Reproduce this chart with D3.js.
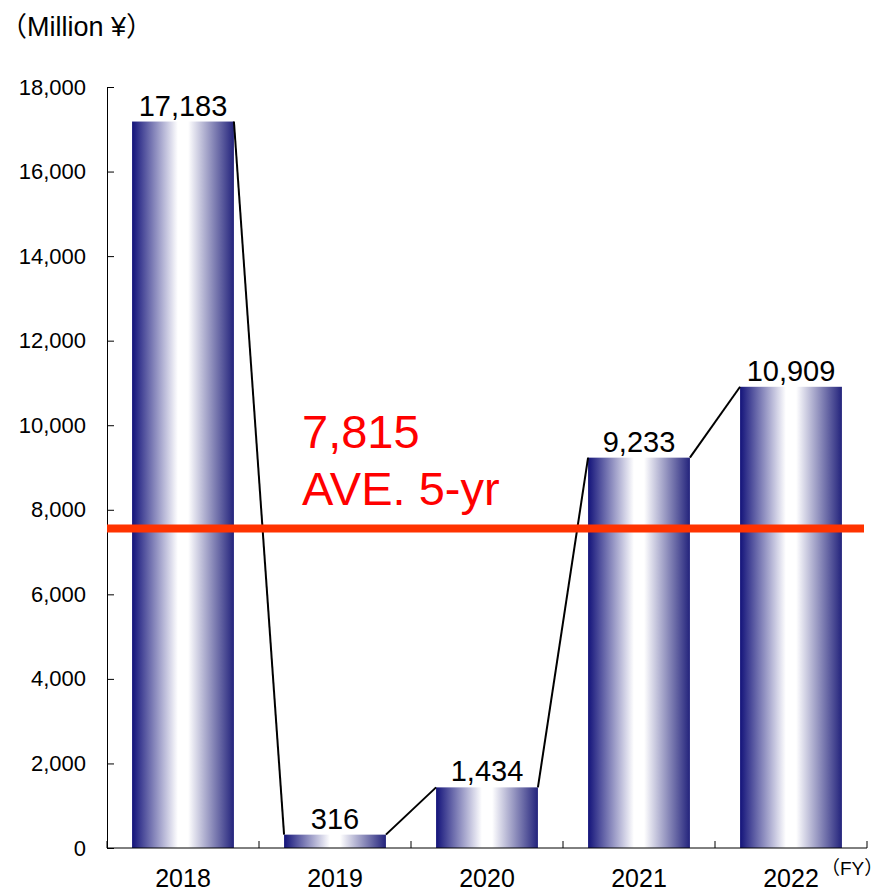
<!DOCTYPE html>
<html>
<head>
<meta charset="utf-8">
<script src="https://cdn.jsdelivr.net/npm/d3@7"></script>
<style>
  body { margin: 0; background: #fff; }
  text { font-family: "Liberation Sans", Arial, sans-serif; }
  .cjk { font-family: "Noto Sans CJK JP", sans-serif; }
</style>
</head>
<body>
<div id="chart"></div>
<script>
// data
var years = ["2018", "2019", "2020", "2021", "2022"];
var values = [17183, 316, 1434, 9233, 10909];
var yTicks = [0, 2000, 4000, 6000, 8000, 10000, 12000, 14000, 16000, 18000];
var aveLabel = "7,815";
var aveText = "AVE. 5-yr";
var aveLineValue = 7560; // where the line sits in the picture

function draw_chart() {
	var w = 884, h = 891;
	var mLeft = 107, mRight = 867, mTop = 87, mBottom = 848;

	var svg = d3.select("#chart").append("svg")
		.attr("width", w)
		.attr("height", h);

	var x = d3.scaleBand()
		.domain(years)
		.range([mLeft, mRight])
		.paddingInner(0.33)
		.paddingOuter(0.165);

	var y = d3.scaleLinear()
		.domain([0, 18000])
		.range([mBottom, mTop]);

	// gradient for the bars
	var grad = svg.append("defs").append("linearGradient")
		.attr("id", "barGrad")
		.attr("x1", "0%").attr("y1", "0%")
		.attr("x2", "100%").attr("y2", "0%");
	grad.append("stop").attr("offset", "0%").attr("stop-color", "#13137a");
	grad.append("stop").attr("offset", "45%").attr("stop-color", "#ffffff");
	grad.append("stop").attr("offset", "55%").attr("stop-color", "#ffffff");
	grad.append("stop").attr("offset", "100%").attr("stop-color", "#23237c");

	// bars
	svg.append("g").selectAll("rect")
		.data(values)
		.enter().append("rect")
		.attr("x", (d, i) => x(years[i]))
		.attr("y", d => y(d))
		.attr("width", x.bandwidth())
		.attr("height", d => mBottom - y(d))
		.attr("fill", "url(#barGrad)");

	// connector lines between bars
	var links = d3.pairs(values.map((d, i) => ({ v: d, yr: years[i] })));
	svg.append("g").selectAll("line")
		.data(links)
		.enter().append("line")
		.attr("x1", d => x(d[0].yr) + x.bandwidth())
		.attr("y1", d => y(d[0].v))
		.attr("x2", d => x(d[1].yr))
		.attr("y2", d => y(d[1].v))
		.attr("stroke", "black")
		.attr("stroke-width", 2);

	// axes
	var yAxis = d3.axisLeft(y)
		.tickValues(yTicks)
		.tickSize(-7)
		.tickPadding(21)
		.tickFormat(d3.format(","));
	var gy = svg.append("g")
		.attr("transform", "translate(" + mLeft + ",0)")
		.call(yAxis);
	gy.select(".domain").attr("stroke", "black");
	gy.selectAll(".tick line").attr("stroke", "black");
	gy.selectAll(".tick text")
		.attr("font-size", 22)
		.attr("fill", "black")
		.attr("font-family", "Liberation Sans, Arial, sans-serif");

	var gx = svg.append("g")
		.attr("transform", "translate(0," + mBottom + ")");
	gx.append("line")
		.attr("x1", mLeft).attr("x2", mRight)
		.attr("stroke", "black");
	var bounds = d3.range(years.length + 1).map(i => mLeft + i * x.step());
	gx.selectAll(".xt")
		.data(bounds)
		.enter().append("line")
		.attr("class", "xt")
		.attr("x1", d => d).attr("x2", d => d)
		.attr("y1", 0).attr("y2", -7)
		.attr("stroke", "black");
	gx.selectAll(".xl")
		.data(years)
		.enter().append("text")
		.attr("class", "xl")
		.attr("x", d => x(d) + x.bandwidth() / 2)
		.attr("y", 39)
		.attr("text-anchor", "middle")
		.attr("font-size", 25)
		.text(d => d);

	// value labels
	svg.append("g").selectAll("text")
		.data(values)
		.enter().append("text")
		.attr("x", (d, i) => x(years[i]) + x.bandwidth() / 2)
		.attr("y", d => y(d) - 6)
		.attr("text-anchor", "middle")
		.attr("font-size", 29)
		.attr("fill", "black")
		.text(d => d3.format(",")(d));

	// average line
	svg.append("line")
		.attr("x1", mLeft)
		.attr("x2", 864)
		.attr("y1", y(aveLineValue))
		.attr("y2", y(aveLineValue))
		.attr("stroke", "#ff3300")
		.attr("stroke-width", 8);

	svg.append("text")
		.attr("x", 302)
		.attr("y", 448)
		.attr("font-size", 47)
		.attr("fill", "#ff0000")
		.text(aveLabel);
	svg.append("text")
		.attr("x", 302)
		.attr("y", 505)
		.attr("font-size", 47)
		.attr("fill", "#ff0000")
		.text(aveText);

	// unit labels
	var unit = svg.append("text")
		.attr("x", 0)
		.attr("y", 36)
		.attr("font-size", 27);
	unit.append("tspan").attr("class", "cjk").text("（");
	unit.append("tspan").text("Million ¥");
	unit.append("tspan").attr("class", "cjk").text("）");

	var fy = svg.append("text")
		.attr("x", 821)
		.attr("y", 875)
		.attr("font-size", 19);
	fy.append("tspan").attr("class", "cjk").text("（");
	fy.append("tspan").text("FY");
	fy.append("tspan").attr("class", "cjk").text("）");

	svg.append("text")
		.attr("class", "cjk")
		.attr("x", -14)
		.attr("y", 882)
		.attr("font-size", 18)
		.text("）");
}
draw_chart();
</script>
</body>
</html>
